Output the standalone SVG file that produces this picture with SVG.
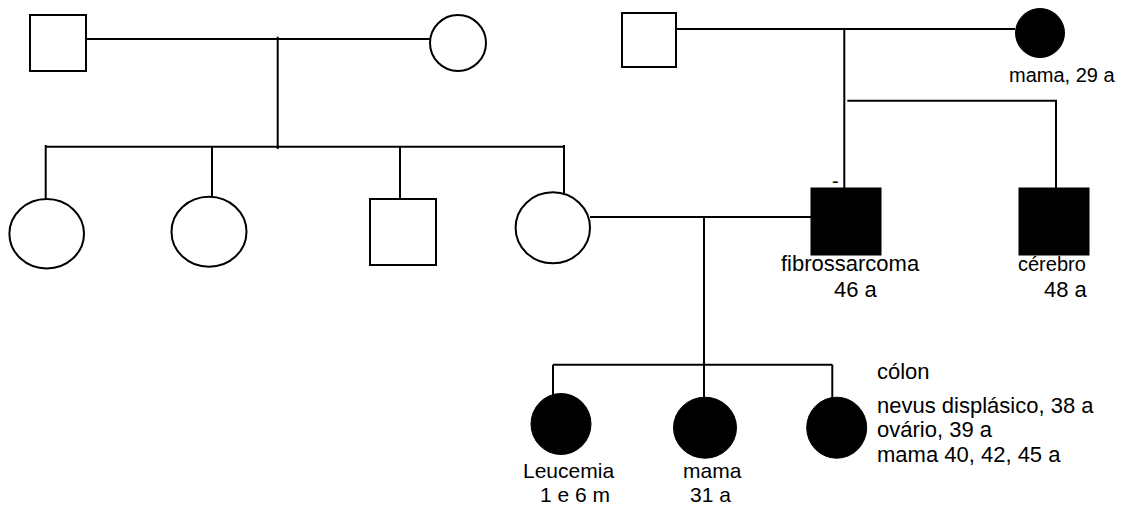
<svg xmlns="http://www.w3.org/2000/svg" width="1122" height="506" viewBox="0 0 1122 506">
  <style>
    .open { fill: #fff; stroke: #000; stroke-width: 2; }
    .aff { fill: #000; stroke: #000; stroke-width: 1; }
    .ln { fill: none; stroke: #000; stroke-width: 2; }
    text { font-family: "Liberation Sans", Arial, sans-serif; font-size: 22px; fill: #000; }
    .s20 { font-size: 20px; }
    .s21 { font-size: 21px; }
  </style>
  <rect width="1122" height="506" fill="#fff"/>

  <!-- connectors: couple lines, descent lines, sibling lines -->
  <g id="connectors">
    <!-- first couple (left) -->
    <path class="ln" d="M86,39 H430"/>
    <path class="ln" d="M277.7,36.7 V149"/>
    <path class="ln" d="M45.7,146.7 H564"/>
    <path class="ln" d="M45.7,145 V199"/>
    <path class="ln" d="M212,146.7 V199"/>
    <path class="ln" d="M400,146.7 V199"/>
    <path class="ln" d="M564,145 V193"/>
    <!-- second couple (right) -->
    <path class="ln" d="M676,29 H1015"/>
    <path class="ln" d="M844.3,29 V188.3"/>
    <path class="ln" d="M847.3,100.7 H1056 V188.3"/>
    <!-- marriage of the two families -->
    <path class="ln" d="M590,217 H811"/>
    <path class="ln" d="M704,217 V364.7"/>
    <path class="ln" d="M553,364.7 H832.3"/>
    <path class="ln" d="M553,364.7 V395"/>
    <path class="ln" d="M704,364.7 V398"/>
    <path class="ln" d="M832.3,364.7 V398"/>
  </g>

  <!-- generation I -->
  <g id="gp1-male"><rect class="open" x="30" y="15" width="56" height="56"/></g>
  <g id="gp1-female"><ellipse class="open" cx="458" cy="43" rx="28" ry="28"/></g>
  <g id="gp2-male"><rect class="open" x="622" y="13" width="54" height="54"/></g>
  <g id="gp2-female">
    <ellipse class="aff" cx="1040" cy="33" rx="24.5" ry="24.5"/>
    <text class="s20" x="1009" y="82">mama, 29 a</text>
  </g>

  <!-- generation II -->
  <g id="aunt1"><ellipse class="open" cx="46.7" cy="233.7" rx="37.3" ry="34.7"/></g>
  <g id="aunt2"><ellipse class="open" cx="209" cy="231.7" rx="37.5" ry="35"/></g>
  <g id="uncle"><rect class="open" x="370" y="199" width="66" height="66"/></g>
  <g id="mother"><ellipse class="open" cx="552.8" cy="227.8" rx="37.2" ry="35.5"/></g>
  <g id="father">
    <text class="s20" x="832" y="188">-</text>
    <rect class="aff" x="811" y="188" width="70" height="67"/>
    <text x="781" y="271">fibrossarcoma</text>
    <text x="834" y="297">46 a</text>
  </g>
  <g id="father-brother">
    <rect class="aff" x="1019" y="188" width="70" height="67"/>
    <text class="s20" x="1018" y="271">cérebro</text>
    <text x="1044" y="297">48 a</text>
  </g>

  <!-- generation III -->
  <g id="daughter1">
    <ellipse class="aff" cx="561" cy="424" rx="30" ry="30.5"/>
    <text class="s21" x="523" y="478">Leucemia</text>
    <text class="s21" x="540" y="502">1 e 6 m</text>
  </g>
  <g id="daughter2">
    <ellipse class="aff" cx="705" cy="427.7" rx="31.5" ry="30.5"/>
    <text class="s21" x="683" y="478">mama</text>
    <text class="s21" x="690" y="502">31 a</text>
  </g>
  <g id="daughter3">
    <ellipse class="aff" cx="836.7" cy="427.7" rx="30" ry="30.5"/>
    <text x="877" y="379">cólon</text>
    <text x="877" y="413">nevus displásico, 38 a</text>
    <text x="877" y="437">ovário, 39 a</text>
    <text x="877" y="462">mama 40, 42, 45 a</text>
  </g>
</svg>
